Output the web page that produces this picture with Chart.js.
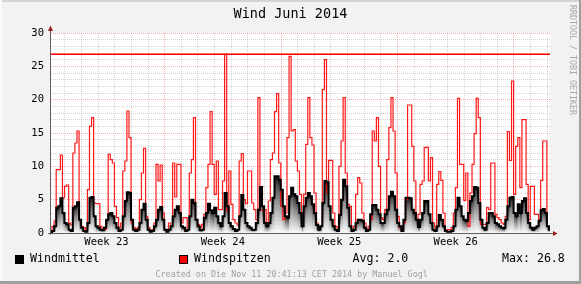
<!DOCTYPE html>
<html>
<head>
<meta charset="utf-8">
<title>Wind Juni 2014</title>
<script src="https://cdn.jsdelivr.net/npm/chart.js@4.4.1/dist/chart.umd.min.js"></script>
<style>
  body { margin: 0; background: #f2f2f2; }
  #wrap { position: relative; width: 581px; height: 284px; background: #f2f2f2; overflow: hidden;
          font-family: "DejaVu Sans Mono", monospace; }
  #wrap canvas { position: absolute; left: 0; top: 0; }
  .txt { position: absolute; line-height: 1; white-space: pre; color: #000; }
  .box { position: absolute; width: 9px; height: 9px; box-sizing: border-box; border: 1px solid #000; }
  .shade { position: absolute; }
</style>
</head>
<body>
<div id="wrap">
  <canvas id="myChart" width="581" height="284"></canvas>
  <div class="txt" style="left:0;width:581px;top:7px;text-align:center;font-size:13.5px">Wind Juni 2014</div>
  <div class="box" style="left:15px;top:255px;background:#000"></div>
  <div class="txt" style="left:30px;top:253px;font-size:11.6px">Windmittel</div>
  <div class="box" style="left:179px;top:255px;background:#ff0000"></div>
  <div class="txt" style="left:194px;top:253px;font-size:11.6px">Windspitzen</div>
  <div class="txt" id="avgText" style="left:352.5px;top:253px;font-size:11.6px"></div>
  <div class="txt" id="maxText" style="left:502px;top:253px;font-size:11.6px"></div>
  <div class="txt" style="left:155.5px;top:269.5px;font-size:8.4px;color:#a0a0a0">Created on Die Nov 11 20:41:13 CET 2014 by Manuel Gogl</div>
  <div class="txt" style="left:577px;top:4.5px;font-size:8.3px;color:#a8a8a8;transform-origin:0 0;transform:rotate(90deg)">RRDTOOL / TOBI OETIKER</div>
  <div class="shade" style="left:0;top:0;width:581px;height:2px;background:#d4d4d4"></div>
  <div class="shade" style="left:0;top:0;width:2px;height:284px;background:#fafafa"></div>
  <div class="shade" style="left:579px;top:0;width:2px;height:284px;background:#9e9e9e"></div>
  <div class="shade" style="left:0;top:281px;width:581px;height:3px;background:#9e9e9e"></div>
</div>
<script>
// 3-hourly values, 1. - 30. Juni 2014
const stepHours = 3;
const windspitzen = [
  0.3, 1.0, 1.8, 9.5, 9.5, 11.7, 5.3, 7.0,
  7.2, 1.5, 1.2, 12.0, 13.5, 15.3, 2.0, 1.0,
  0.8, 0.5, 6.5, 16.0, 17.3, 4.5, 4.4, 4.4,
  1.0, 0.5, 0.5, 2.0, 11.8, 11.0, 10.5, 4.0,
  2.3, 0.8, 1.5, 9.3, 10.8, 18.3, 14.3, 1.5,
  0.8, 0.6, 0.8, 5.0, 9.0, 12.7, 2.5, 0.8,
  0.3, 0.5, 1.5, 10.3, 7.8, 10.2, 3.0, 0.5,
  0.5, 1.5, 1.0, 10.5, 5.4, 10.3, 10.3, 1.5,
  2.3, 2.3, 0.8, 9.0, 11.0, 17.3, 2.0, 1.3,
  0.8, 1.3, 2.8, 6.8, 10.3, 18.2, 10.3, 5.8,
  10.8, 3.5, 3.5, 7.8, 26.8, 3.3, 9.3, 4.3,
  2.0, 1.5, 1.2, 10.8, 11.9, 5.0, 4.4, 9.3,
  9.3, 4.5, 3.5, 2.0, 20.3, 3.4, 3.4, 3.5,
  1.5, 4.8, 11.0, 12.0, 18.2, 20.9, 10.5, 4.0,
  2.0, 3.0, 14.3, 26.5, 15.3, 15.5, 10.8, 9.3,
  5.8, 2.0, 5.8, 13.3, 20.3, 14.3, 13.2, 6.0,
  1.5, 0.8, 1.0, 21.5, 26.0, 6.0, 10.9, 10.9,
  3.0, 1.0, 0.8, 10.0, 13.8, 20.3, 9.0, 4.3,
  4.0, 0.5, 1.0, 5.8, 8.3, 7.5, 3.0, 1.5,
  0.5, 1.0, 2.0, 15.3, 13.8, 17.3, 10.0, 2.3,
  2.0, 3.5, 11.0, 15.8, 20.3, 15.3, 9.0, 2.5,
  0.8, 0.5, 1.5, 5.0, 19.2, 19.2, 13.0, 7.8,
  2.0, 2.8, 7.3, 7.8, 12.8, 12.9, 7.8, 11.3,
  1.5, 0.8, 7.3, 9.2, 7.9, 3.0, 0.5, 0.5,
  0.5, 0.8, 3.0, 6.8, 20.2, 10.3, 10.3, 4.9,
  9.0, 1.0, 6.0, 10.3, 14.9, 20.2, 17.3, 1.3,
  1.3, 1.3, 3.8, 3.5, 10.5, 10.5, 2.8, 2.3,
  2.0, 1.5, 1.3, 2.5, 15.2, 10.9, 22.8, 5.8,
  13.0, 14.3, 6.8, 17.0, 17.0, 7.3, 2.0, 7.0,
  7.0, 2.8, 2.8, 2.0, 7.9, 13.8, 13.8, 1.0,
  1.0
];
const windmittel = [
  0.0, 0.3, 1.0, 3.8, 4.0, 5.2, 3.0, 1.5,
  1.3, 0.5, 0.3, 3.8, 4.0, 4.6, 2.0, 0.8,
  0.3, 0.2, 1.5, 5.3, 5.4, 2.5, 1.0, 0.8,
  0.5, 0.4, 0.8, 2.0, 2.8, 3.0, 2.5, 1.5,
  0.8, 0.3, 0.5, 2.5, 4.8, 6.1, 6.0, 2.0,
  0.5, 0.3, 0.5, 1.5, 3.5, 4.4, 2.0, 0.5,
  0.2, 0.3, 1.0, 2.0, 3.5, 3.9, 2.0, 0.5,
  0.2, 0.5, 1.0, 2.5, 3.5, 4.0, 3.0, 1.0,
  0.8, 0.3, 0.5, 2.5, 5.0, 4.5, 2.0, 1.0,
  0.4, 0.5, 2.3, 3.0, 4.4, 3.4, 3.0, 3.8,
  2.5, 1.5, 1.0, 2.5, 6.0, 4.0, 1.5, 1.0,
  0.6, 0.3, 0.5, 2.5, 5.7, 3.5, 1.5, 1.0,
  0.8, 0.5, 0.5, 1.5, 3.5, 6.9, 4.0, 1.5,
  1.0, 1.5, 3.0, 5.3, 8.5, 8.5, 8.0, 6.5,
  4.0, 2.5, 2.3, 5.5, 6.8, 5.8, 5.5, 4.5,
  3.0, 1.0, 4.0, 5.3, 6.0, 5.5, 4.3, 3.0,
  1.2, 0.5, 1.0, 4.5, 7.8, 7.6, 4.0, 2.0,
  1.0, 0.5, 0.3, 2.7, 5.0, 8.0, 7.0, 3.8,
  1.0, 0.3, 0.5, 1.5, 2.0, 2.0, 1.8, 0.8,
  0.3, 0.5, 2.8, 4.2, 4.2, 3.5, 2.8, 1.5,
  1.5, 2.8, 3.5, 5.5, 6.2, 5.5, 3.5, 1.5,
  1.0, 0.3, 2.0, 5.3, 5.3, 5.2, 3.5, 3.0,
  2.0, 0.9, 2.0, 3.0, 4.8, 4.8, 2.8, 1.5,
  0.5, 0.3, 1.0, 2.7, 2.0, 1.0, 0.3, 0.2,
  0.2, 0.3, 1.0, 3.5, 5.3, 4.0, 2.5, 2.0,
  1.8, 3.0, 4.8, 5.5, 6.9, 6.8, 4.5, 2.0,
  0.8, 0.5, 1.5, 3.0, 3.0, 2.5, 1.5, 1.3,
  1.0, 0.8, 0.7, 2.0, 4.0, 5.3, 5.4, 3.0,
  2.5, 4.3, 3.0, 4.8, 5.2, 3.0, 1.5, 0.8,
  0.5, 0.8, 1.0, 1.8, 3.4, 3.6, 3.0, 1.0,
  0.5
];
const maxWind = 26.8;
const avgWind = 2.0;

// x axis: hours since start of graph
const totalHours = 720;
const firstDayLine = 20;
const weekLineHours = [164, 332, 500, 668];
const weekLabels = ["Week 23", "Week 24", "Week 25", "Week 26"];
const weekLabelHours = [80, 248, 416, 584];
const yMax = 30;
const yLabelEvery = 5;

document.getElementById("avgText").textContent = "Avg: " + avgWind.toFixed(1);
document.getElementById("maxText").textContent = "Max: " + maxWind.toFixed(1);

const dayLineHours = [];
for (let h = firstDayLine; h < totalHours; h += 24) dayLineHours.push(h);
const xTicks = dayLineHours.concat(weekLabelHours).sort((a, b) => a - b);
const yTicks = [];
for (let v = 0; v <= yMax; v++) yTicks.push(v);

const toPoints = (arr, f) => arr.map((v, i) => ({ x: i * stepHours, y: v * f }));

const minorGrid = "rgba(150,150,150,0.4)";
const majorGrid = "rgba(222,70,70,0.4)";
const font = "DejaVu Sans Mono";

// gradient look of the mean wind: stacked copies, dark on top, light at the bottom
const shadeLevels = 14;
const shadeSets = [];
for (let j = 0; j < shadeLevels; j++) {
  const f = (shadeLevels - j) / shadeLevels;
  const g = Math.round(30 + 215 * Math.pow(j / (shadeLevels - 1), 0.75));
  shadeSets.push({
    data: toPoints(windmittel, f),
    fill: "origin",
    backgroundColor: `rgb(${g},${g},${g})`,
    borderColor: "rgba(0,0,0,0)",
    borderWidth: 0,
    pointRadius: 0,
    stepped: "middle",
    order: 10 + shadeLevels - j,
  });
}

const rrdFrame = {
  id: "rrdFrame",
  beforeDraw(chart) {
    const { ctx, chartArea: a } = chart;
    ctx.save();
    ctx.fillStyle = "#ffffff";
    ctx.fillRect(a.left, a.top, a.right - a.left, a.bottom - a.top);
    ctx.restore();
  },
  afterDraw(chart) {
    const { ctx, chartArea: a } = chart;
    ctx.save();
    ctx.strokeStyle = "#606060";
    ctx.lineWidth = 1;
    ctx.beginPath();
    ctx.moveTo(a.left - 0.5, a.bottom + 2);
    ctx.lineTo(a.left - 0.5, a.top - 3);
    ctx.moveTo(a.left - 3, a.bottom + 0.5);
    ctx.lineTo(a.right + 4, a.bottom + 0.5);
    ctx.stroke();
    ctx.fillStyle = "#9b1b1b";
    ctx.beginPath();
    ctx.moveTo(a.left - 0.5, a.top - 7.5);
    ctx.lineTo(a.left - 3, a.top - 2);
    ctx.lineTo(a.left + 2, a.top - 2);
    ctx.closePath();
    ctx.fill();
    ctx.beginPath();
    ctx.moveTo(a.right + 7.5, a.bottom + 0.5);
    ctx.lineTo(a.right + 3, a.bottom - 2);
    ctx.lineTo(a.right + 3, a.bottom + 3);
    ctx.closePath();
    ctx.fill();
    ctx.restore();
  },
};

const ctx = document.getElementById("myChart");

new Chart(ctx, {
  type: "line",
  data: {
    datasets: [
      {
        label: "Max",
        data: [{ x: 0, y: maxWind }, { x: totalHours, y: maxWind }],
        borderColor: "#ff0000",
        borderWidth: 1.5,
        pointRadius: 0,
        fill: false,
        order: 0,
      },
      {
        label: "Windmittel",
        data: toPoints(windmittel, 1),
        borderColor: "#000000",
        borderWidth: 2,
        pointRadius: 0,
        fill: false,
        stepped: "middle",
        order: 1,
      },
      {
        label: "Windspitzen",
        data: toPoints(windspitzen, 1),
        borderColor: "rgba(255,0,0,0.9)",
        borderWidth: 1.2,
        pointRadius: 0,
        fill: false,
        stepped: "middle",
        order: 2,
      },
      ...shadeSets,
    ],
  },
  options: {
    responsive: false,
    animation: false,
    devicePixelRatio: 1,
    events: [],
    layout: { padding: { top: 33, right: 31, left: 0, bottom: 0 } },
    plugins: {
      legend: { display: false },
      tooltip: { enabled: false },
    },
    scales: {
      x: {
        type: "linear",
        position: "bottom",
        min: 0,
        max: totalHours,
        afterBuildTicks: (scale) => {
          scale.ticks = xTicks.map((v) => ({ value: v }));
        },
        afterFit: (scale) => {
          scale.height = 51;
        },
        ticks: {
          autoSkip: false,
          maxRotation: 0,
          padding: 3,
          color: "#000",
          font: { family: font, size: 10.5 },
          callback: (value) => {
            const k = weekLabelHours.indexOf(value);
            return k >= 0 ? weekLabels[k] : "";
          },
        },
        grid: {
          drawTicks: false,
          lineWidth: 1,
          color: (c) => {
            const v = c.tick ? c.tick.value : null;
            if (weekLabelHours.includes(v)) return "rgba(0,0,0,0)";
            if (weekLineHours.includes(v)) return majorGrid;
            return minorGrid;
          },
        },
        border: { display: false, dash: [1, 1] },
      },
      y: {
        min: 0,
        max: yMax,
        afterBuildTicks: (scale) => {
          scale.ticks = yTicks.map((v) => ({ value: v }));
        },
        afterFit: (scale) => {
          scale.width = 51;
        },
        ticks: {
          autoSkip: false,
          padding: 7,
          color: "#000",
          font: { family: font, size: 10.5 },
          callback: (value) => (value % yLabelEvery === 0 ? String(value) : ""),
        },
        grid: {
          drawTicks: false,
          lineWidth: 1,
          color: (c) => {
            const v = c.tick ? c.tick.value : 0;
            return v > 0 && v % yLabelEvery === 0 ? majorGrid : minorGrid;
          },
        },
        border: { display: false, dash: [1, 1] },
      },
    },
  },
  plugins: [rrdFrame],
});
</script>
</body>
</html>
